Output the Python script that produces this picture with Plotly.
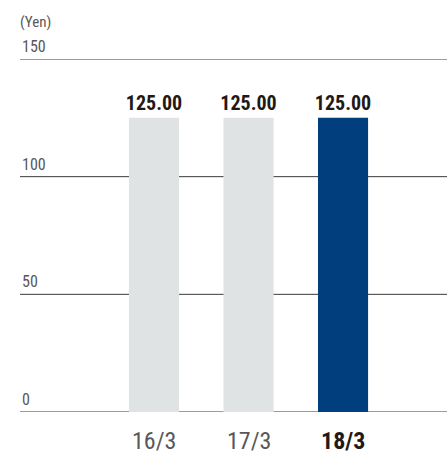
import plotly.graph_objects as go

categories = ["16/3", "17/3", "18/3"]
values = [125.00, 125.00, 125.00]
value_labels = ["125.00", "125.00", "125.00"]
y_ticks = [0, 50, 100, 150]
unit_label = "(Yen)"

bar_colors = ["#e0e3e4", "#e0e3e4", "#003e7e"]
FONT = "Liberation Sans Narrow, Roboto Condensed, Arial Narrow, Liberation Sans, sans-serif"

x_pos = list(range(len(categories)))

fig = go.Figure()
fig.add_trace(go.Bar(
    x=x_pos, y=values, width=0.53,
    marker=dict(color=bar_colors, line=dict(width=0)),
    text=[f"<b>{v}</b>" for v in value_labels], textposition="outside", constraintext="none",
    textfont=dict(family=FONT, size=20, color="#231815"),
    cliponaxis=False, hoverinfo="skip",
))

shapes = []
annotations = []
for t in y_ticks:
    shapes.append(dict(type="line", xref="paper", yref="y", x0=0, x1=1, y0=t, y1=t,
                       line=dict(color="#3a3a3a", width=1), layer="below"))
    annotations.append(dict(x=0, xref="paper", y=t, yref="y", text=str(t), showarrow=False,
                            xanchor="left", yanchor="bottom", yshift=1,
                            font=dict(family=FONT, size=16, color="#595757")))
annotations.append(dict(x=0, xref="paper", xshift=-2, y=1, yref="paper", text=unit_label, showarrow=False,
                        xanchor="left", yanchor="bottom", yshift=26,
                        font=dict(family=FONT, size=15, color="#595757")))
for i, c in enumerate(categories):
    last = i == len(categories) - 1
    annotations.append(dict(x=x_pos[i], xref="x", y=0, yref="paper", text=f"<b>{c}</b>" if last else c,
                            showarrow=False, xanchor="center", yanchor="top", yshift=-13,
                            font=dict(family=FONT, size=24, color="#231815" if last else "#595757")))

fig.update_layout(
    width=447, height=454,
    margin=dict(l=20, r=0, t=59, b=42),
    paper_bgcolor="white", plot_bgcolor="white",
    showlegend=False,
    xaxis=dict(range=[-1.418, 3.10], showticklabels=False, showgrid=False, zeroline=False, fixedrange=True),
    yaxis=dict(range=[0, 150], showticklabels=False, showgrid=False, zeroline=False, fixedrange=True),
    shapes=shapes, annotations=annotations,
    uniformtext=dict(mode=False),
)

fig.write_html("out.html", config={"displayModeBar": False})
